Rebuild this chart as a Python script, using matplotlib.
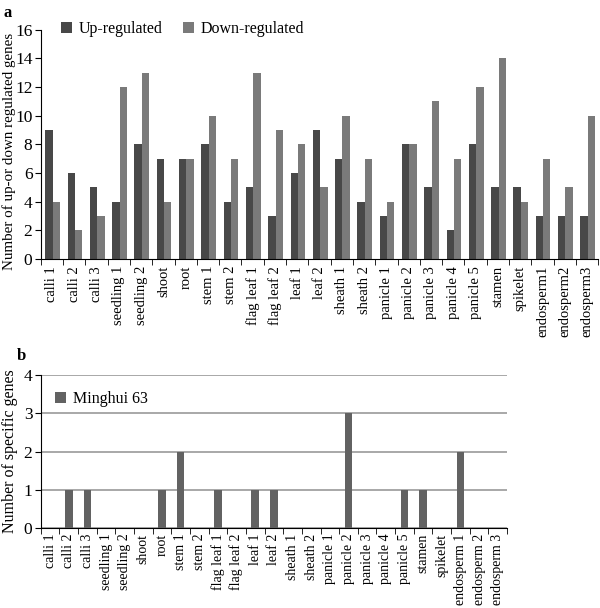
import numpy as np
import matplotlib.pyplot as plt

plt.rcParams["font.family"] = ["Liberation Serif", "DejaVu Serif"]

# Panel a data
tissues_a = ["calli 1", "calli 2", "calli 3", "seedling 1", "seedling 2", "shoot", "root",
             "stem 1", "stem 2", "flag leaf 1", "flag leaf 2", "leaf 1", "leaf 2", "sheath 1",
             "sheath 2", "panicle 1", "panicle 2", "panicle 3", "panicle 4", "panicle 5",
             "stamen", "spikelet", "endosperm1", "endosperm2", "endosperm3"]
up_regulated = [9, 6, 5, 4, 8, 7, 7, 8, 4, 5, 3, 6, 9, 7, 4, 3, 8, 5, 2, 8, 5, 5, 3, 3, 3]
down_regulated = [4, 2, 3, 12, 13, 4, 7, 10, 7, 13, 9, 8, 5, 10, 7, 4, 8, 11, 7, 12, 14, 4, 7, 5, 10]

# Panel b data
tissues_b = ["calli 1", "calli 2", "calli 3", "seedling 1", "seedling 2", "shoot", "root",
             "stem 1", "stem 2", "flag leaf 1", "flag leaf 2", "leaf 1", "leaf 2", "sheath 1",
             "sheath 2", "panicle 1", "panicle 2", "panicle 3", "panicle 4", "panicle 5",
             "stamen", "spikelet", "endosperm 1", "endosperm 2", "endosperm 3"]
minghui63 = [0, 1, 1, 0, 0, 0, 1, 2, 0, 1, 0, 1, 1, 0, 0, 0, 3, 0, 0, 1, 1, 0, 2, 0, 0]

fig = plt.figure(figsize=(6.0, 6.08), dpi=100)

# ---- panel a
ax_a = fig.add_axes([0.068, 0.574, 0.929, 0.377])
x = np.arange(len(tissues_a))
w = 0.33
ax_a.bar(x - w / 2 + 0.03, up_regulated, width=w, color="#484848", label="Up-regulated")
ax_a.bar(x + w / 2 + 0.03, down_regulated, width=w, color="#7a7a7a", label="Down-regulated")
ax_a.set_xlim(-0.5, len(tissues_a) - 0.5)
ax_a.set_ylim(0, 16)
ax_a.set_yticks(range(0, 17, 2))
ax_a.set_xticks(x)
ax_a.set_xticklabels(tissues_a, rotation=90, fontsize=10.5)
ax_a.set_xticks(np.arange(-0.5, len(tissues_a), 1), minor=True)
ax_a.tick_params(axis="x", which="major", length=0, pad=5)
ax_a.tick_params(axis="x", which="minor", length=4, direction="out")
ax_a.tick_params(axis="y", labelsize=12.5, length=4, pad=2)
ax_a.spines["top"].set_visible(False)
ax_a.spines["right"].set_visible(False)
ax_a.set_ylabel("Number of up-or down regulated genes", fontsize=10.8)
ax_a.yaxis.set_label_coords(-0.045, 0.47)
ax_a.legend(ncol=2, frameon=False, loc="upper left", bbox_to_anchor=(0.01, 1.1),
            fontsize=11.5, handlelength=0.7, handleheight=0.7, columnspacing=1.3,
            handletextpad=0.4)
fig.text(0.006, 0.978, "a", fontsize=12, fontweight="bold", va="center")

# ---- panel b
ax_b = fig.add_axes([0.068, 0.1316, 0.777, 0.2516])
xb = np.arange(len(tissues_b))
ax_b.bar(xb, minghui63, width=0.41, color="#626262", label="Minghui 63", zorder=3)
ax_b.set_xlim(-0.5, len(tissues_b) - 0.5)
ax_b.set_ylim(0, 4)
ax_b.set_yticks(range(0, 5))
ax_b.yaxis.grid(True, color="#9a9a9a", linewidth=1.2, zorder=0)
ax_b.set_xticks(xb)
ax_b.set_xticklabels(tissues_b, rotation=90, fontsize=10)
ax_b.set_xticks(np.arange(-0.5, len(tissues_b), 1), minor=True)
ax_b.tick_params(axis="x", which="major", length=0, pad=4)
ax_b.tick_params(axis="x", which="minor", length=4, direction="out")
ax_b.tick_params(axis="y", labelsize=12.5, length=4, pad=2)
ax_b.spines["top"].set_visible(False)
ax_b.spines["right"].set_visible(False)
ax_b.set_ylabel("Number of specific genes", fontsize=11.5, labelpad=4)
ax_b.legend(frameon=False, loc="upper left", bbox_to_anchor=(0.0, 0.99), fontsize=11.5,
            handlelength=0.7, handleheight=0.7, handletextpad=0.4)
fig.text(0.028, 0.415, "b", fontsize=12, fontweight="bold", va="center")

fig.savefig("out.png", dpi=100)
